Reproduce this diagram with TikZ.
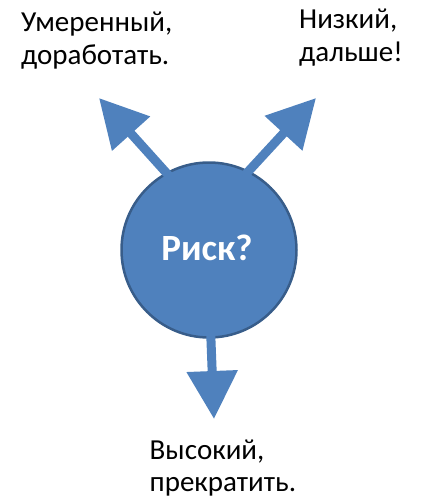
\documentclass[tikz,border=0pt]{standalone}
\usepackage{fontspec}
\setmainfont{Carlito}
\usetikzlibrary{arrows.meta}
\definecolor{riskfill}{HTML}{4F81BD}
\definecolor{riskline}{HTML}{385D8A}
\begin{document}
\begin{tikzpicture}[x=1pt,y=-1pt,
  lbl/.style={anchor=base west,inner sep=0pt,font=\fontsize{29}{33}\selectfont},
  bigarrow/.style={draw=riskfill,line width=9pt,-{Triangle[width=49pt,length=48pt]},fill=riskfill}]
\useasboundingbox (0,0) rectangle (439,501);
\node[circle,draw=riskline,line width=2.5pt,fill=riskfill,minimum size=175pt,inner sep=0pt] (c) at (209,250) {};
\node[inner sep=0pt,text=white,font=\fontsize{37}{40}\selectfont\bfseries,anchor=base] (r) at (207,260) {Риск?};
\coordinate (s1) at (171,178);
\coordinate (t1) at (99,98);
\coordinate (s2) at (245,175);
\coordinate (t2) at (316,98);
\coordinate (s3) at (210,315);
\coordinate (t3) at (214,419);
\draw[bigarrow] (s1) -- (t1);
\draw[bigarrow] (s2) -- (t2);
\draw[bigarrow] (s3) -- (t3);
\node[lbl] (a1) at (21,31.5) {Умеренный,};
\node[lbl] (a2) at (21,64.5) {доработать.};
\node[lbl] (b1) at (299,28.5) {Низкий,};
\node[lbl] (b2) at (299,61.5) {дальше!};
\node[lbl] (d1) at (149.5,459.5) {Высокий,};
\node[lbl] (d2) at (149.5,491) {прекратить.};
\end{tikzpicture}
\end{document}
